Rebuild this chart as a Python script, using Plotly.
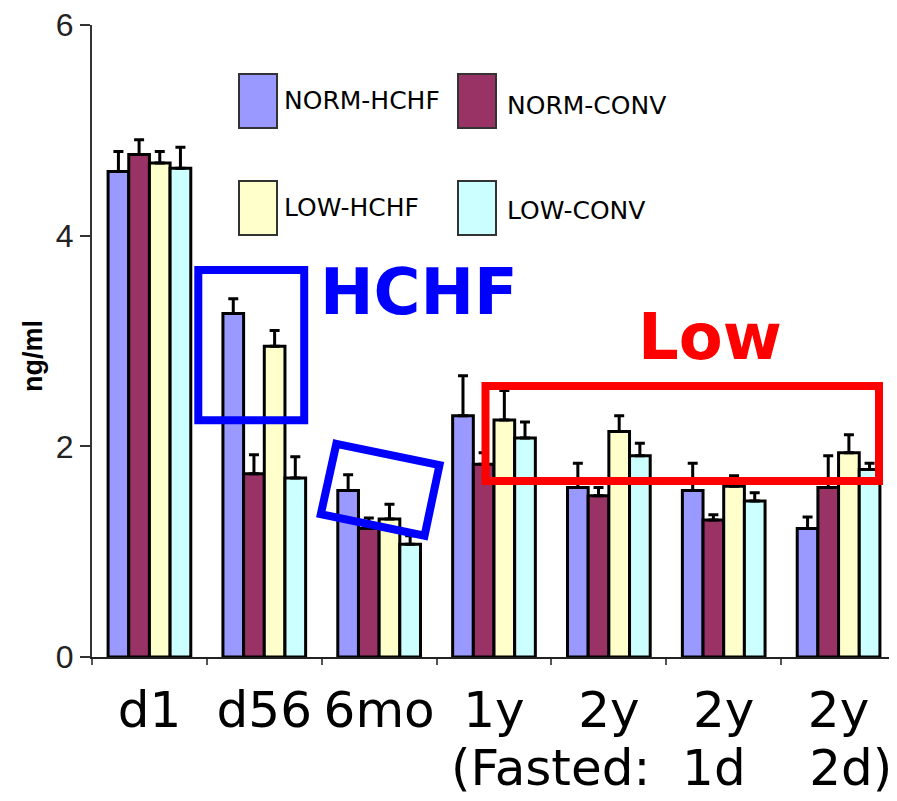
import plotly.graph_objects as go

# ---------------- data ----------------
categories = ["d1", "d56", "6mo", "1y", "2y", "2y (1d)", "2y (2d)"]
tick_labels = ["d1", "d56", "6mo", "1y", "2y", "2y", "2y"]
series_names = ["NORM-HCHF", "NORM-CONV", "LOW-HCHF", "LOW-CONV"]

norm_hchf = [4.61, 3.26, 1.58, 2.29, 1.61, 1.58, 1.22]
norm_hchf_err = [0.19, 0.14, 0.15, 0.38, 0.23, 0.26, 0.11]
norm_conv = [4.77, 1.74, 1.22, 1.83, 1.53, 1.30, 1.61]
norm_conv_err = [0.14, 0.18, 0.10, 0.11, 0.08, 0.05, 0.30]
low_hchf = [4.69, 2.95, 1.31, 2.25, 2.14, 1.62, 1.94]
low_hchf_err = [0.11, 0.15, 0.14, 0.28, 0.15, 0.10, 0.17]
low_conv = [4.64, 1.70, 1.07, 2.08, 1.91, 1.48, 1.78]
low_conv_err = [0.20, 0.20, 0.08, 0.15, 0.12, 0.08, 0.06]

y_ticks = [0, 2, 4, 6]
y_title = "ng/ml"
second_row_label = "(Fasted:  1d    2d)"

# ---------------- styles ----------------
colors = ["#9999FF", "#993366", "#FFFFCC", "#CCFFFF"]
values = [norm_hchf, norm_conv, low_hchf, low_conv]
errors = [norm_hchf_err, norm_conv_err, low_hchf_err, low_conv_err]

fig = go.Figure()
for name, vals, errs, col in zip(series_names, values, errors, colors):
    fig.add_trace(go.Bar(
        name=name, x=categories, y=vals,
        marker=dict(color=col, line=dict(color="black", width=3)),
        error_y=dict(type="data", array=errs, arrayminus=[0] * len(errs),
                     symmetric=False, color="black", thickness=3, width=5),
        showlegend=False,
    ))

# page body has an 8px margin: work in window pixels, convert to figure
OFF = 8
W, H = 897 - OFF, 801 - OFF
PLOT_L, PLOT_R, PLOT_T, PLOT_B = 92, 896, 25, 657   # window pixels
ML = PLOT_L - OFF
MT = PLOT_T - OFF
MR = W - (PLOT_R - OFF)
MB = H - (PLOT_B - OFF)
PW, PH = PLOT_R - PLOT_L, PLOT_B - PLOT_T


def px(x):
    return (x - PLOT_L) / PW


def py(y):
    return (PLOT_B - y) / PH


shapes = []
annotations = []

# custom legend (large swatches, 2x2 grid)
legend_pos = [(239, 74, 282, 101), (458, 74, 505, 105),
              (239, 181, 282, 207), (458, 181, 505, 210)]
for (sx, sy, tx, ty), name, col in zip(legend_pos, series_names, colors):
    shapes.append(dict(type="rect", xref="paper", yref="paper",
                       x0=px(sx), x1=px(sx + 38), y0=py(sy + 54), y1=py(sy),
                       fillcolor=col, line=dict(color="#333333", width=2)))
    annotations.append(dict(xref="paper", yref="paper", x=px(tx), y=py(ty),
                            xanchor="left", yanchor="middle", showarrow=False,
                            text=name, font=dict(family="DejaVu Sans", size=25, color="black")))

# highlight boxes
shapes.append(dict(type="rect", xref="paper", yref="paper",
                   x0=px(198.3), x1=px(304.2), y0=py(420.3), y1=py(270),
                   line=dict(color="#0000FF", width=8)))
tilt = [(336.3, 443.8), (439.5, 465), (424.5, 535.8), (320.8, 514.2)]
path = "M " + " L ".join(f"{px(a):.4f},{py(b):.4f}" for a, b in tilt) + " Z"
shapes.append(dict(type="path", xref="paper", yref="paper", path=path,
                   line=dict(color="#0000FF", width=8)))
shapes.append(dict(type="rect", xref="paper", yref="paper",
                   x0=px(485.5), x1=px(879), y0=py(481), y1=py(386),
                   line=dict(color="#FF0000", width=8)))

annotations.append(dict(xref="paper", yref="paper", x=px(419), y=py(292),
                        xanchor="center", yanchor="middle", showarrow=False, text="<b>HCHF</b>",
                        font=dict(family="DejaVu Sans", size=64, color="#0000FF")))
annotations.append(dict(xref="paper", yref="paper", x=px(710), y=py(337),
                        xanchor="center", yanchor="middle", showarrow=False, text="<b>Low</b>",
                        font=dict(family="DejaVu Sans", size=64, color="#FF0000")))
annotations.append(dict(xref="paper", yref="paper", x=px(894), y=py(768),
                        xanchor="right", yanchor="middle", showarrow=False, text=second_row_label,
                        font=dict(family="DejaVu Sans", size=50, color="black")))
annotations.append(dict(xref="paper", yref="paper", x=px(33), y=py(356),
                        xanchor="center", yanchor="middle", showarrow=False, textangle=-90,
                        text="<b>" + y_title + "</b>",
                        font=dict(family="Liberation Sans", size=27, color="black")))

fig.update_layout(
    width=W, height=H, autosize=False,
    margin=dict(l=ML, r=MR, t=MT, b=MB, pad=0),
    paper_bgcolor="white", plot_bgcolor="white",
    barmode="group", bargap=0.28, bargroupgap=0,
    shapes=shapes, annotations=annotations,
    showlegend=False,
)
fig.update_xaxes(
    type="category", tickmode="array", tickvals=categories, ticktext=tick_labels,
    tickson="boundaries", ticks="outside", ticklen=6, tickwidth=1.5, tickcolor="#555555",
    showline=True, linecolor="#222222", linewidth=2, showgrid=False, zeroline=False,
    tickfont=dict(family="DejaVu Sans", size=50, color="black"), ticklabelstandoff=8,
    tickangle=0, automargin=False, ticklabeloverflow="allow",
)
fig.update_yaxes(
    range=[0, 6], tickvals=y_ticks, ticks="outside", ticklen=10, tickwidth=1.5,
    tickcolor="#333333", showline=True, linecolor="#333333", linewidth=2,
    showgrid=False, zeroline=False, automargin=False, ticklabeloverflow="allow",
    tickfont=dict(family="Liberation Sans", size=32, color="#222222"),
)

fig.write_html("out.html")
